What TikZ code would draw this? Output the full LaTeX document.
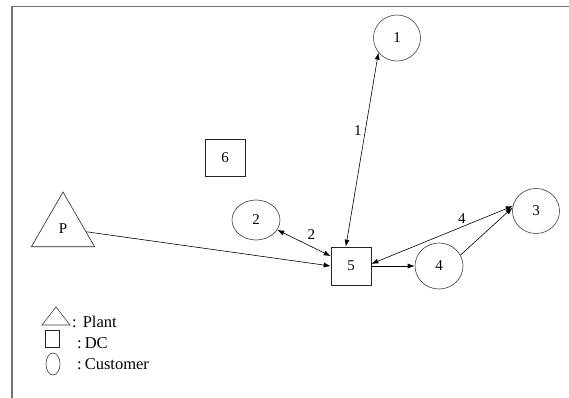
\documentclass[tikz,border=0pt]{standalone}
\usepackage{fontspec}
\setmainfont{Liberation Serif}
\usetikzlibrary{arrows.meta,shapes.geometric}

\begin{document}
\begin{tikzpicture}[x=1pt, y=-1pt, font=\fontsize{15}{18}\selectfont,
    cust/.style={ellipse, draw=black!75, line width=0.6pt, minimum width=47pt, minimum height=46pt, inner sep=0pt},
    dcbox/.style={rectangle, draw=black!85, line width=0.6pt, minimum width=40pt, minimum height=38pt, inner sep=0pt},
    plant/.style={regular polygon, regular polygon sides=3, draw=black!85, line width=0.6pt, minimum size=73pt, inner sep=0pt},
    link/.style={-{Latex[length=7pt,width=5pt]}, line width=0.6pt},
    twoway/.style={{Latex[length=7pt,width=5pt]}-{Latex[length=7pt,width=5pt]}, line width=0.6pt},
    legtext/.style={anchor=base west, inner sep=0pt, font=\fontsize{16.5}{20}\selectfont}]

    % Page and frame
    \fill[white] (0,0) rectangle (569,398);
    \useasboundingbox (0,0) rectangle (569,398);
    \draw[black!55, line width=1.5pt] (12,398) -- (12,6.5) -- (569,6.5);

    % Plant, DCs and customers
    \node[plant] (P) at (63,228.5) {P};
    \node[dcbox] (n5) at (351,266) {5};
    \node[dcbox, minimum height=37pt] (n6) at (225,157.5) {6};
    \node[cust] (n1) at (397,38) {1};
    \node[cust, minimum width=48pt, minimum height=40pt] (n2) at (256,220) {2};
    \node[cust, minimum height=45pt] (n3) at (536,211) {3};
    \node[cust, minimum width=48pt] (n4) at (439,266) {4};

    % Flows
    \draw[link] (P) -- (n5.west);
    \draw[twoway] (n5.154) -- (n2.335) node[pos=0.5, above right=0pt] {2};
    \draw[twoway] (n5.105) -- (n1.218) node[pos=0.6, left=0pt] {1};
    \draw[twoway] (n5.6) -- (n3.168) node[pos=0.64, above=0pt] {4};
    \draw[link] (n5.east) -- (n4.west);
    \draw[link] (n4.27) -- (n3.172);

    % Legend
    \draw[black!75, line width=0.6pt] (42,325) -- (56,307) -- (70,325) -- cycle;
    \draw[black!85, line width=0.6pt] (45,330) rectangle (59,347);
    \draw[black!75, line width=0.6pt] (53,364) ellipse (7 and 11);
    \node[legtext] (lplant) at (72,327) {:\hspace{6pt}Plant};
    \node[legtext] (ldc) at (77,348) {:\hspace{3pt}DC};
    \node[legtext] (lcust) at (77,369) {:\hspace{3pt}Customer};
\end{tikzpicture}
\end{document}
